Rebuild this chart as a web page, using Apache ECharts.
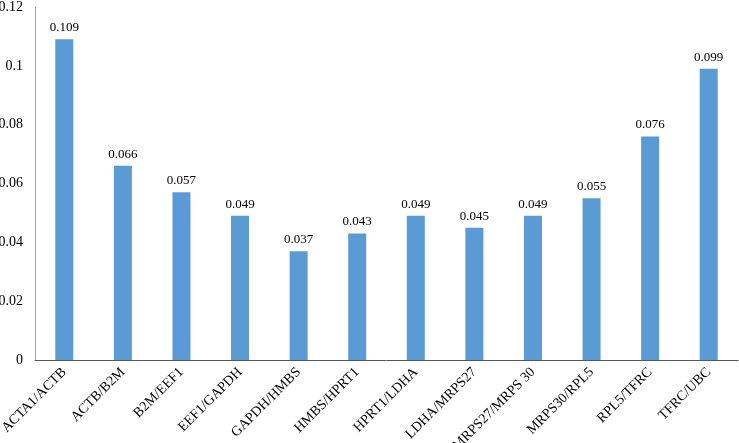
<!DOCTYPE html>
<html><head><meta charset="utf-8">
<script src="https://cdn.jsdelivr.net/npm/echarts@6/dist/echarts.min.js"></script>
<style>html,body{margin:0;padding:0;background:#fff}#c{width:739px;height:443px}</style>
</head><body><div id="c"></div>
<script>
const categories = ["ACTA1/ACTB","ACTB/B2M","B2M/EEF1","EEF1/GAPDH","GAPDH/HMBS","HMBS/HPRT1","HPRT1/LDHA","LDHA/MRPS27","MRPS27/MRPS 30","MRPS30/RPL5","RPL5/TFRC","TFRC/UBC"];
const values = [0.109,0.066,0.057,0.049,0.037,0.043,0.049,0.045,0.049,0.055,0.076,0.099];
const font = 'Liberation Serif';
const chart = echarts.init(document.getElementById('c'), null, {renderer:'canvas'});
chart.setOption({
  animation:false,
  grid:{left:35,right:1,top:7,bottom:83,containLabel:false,outerBoundsMode:'none'},
  xAxis:{type:'category',data:categories,
    axisLine:{lineStyle:{color:'#595959',width:1}},
    axisTick:{show:false},
    axisLabel:{rotate:45,interval:0,color:'#000',fontFamily:font,fontSize:14,margin:10}},
  yAxis:{type:'value',min:0,max:0.12,interval:0.02,
    axisLine:{show:true,lineStyle:{color:'#a6a6a6'}},
    axisTick:{show:false},
    splitLine:{show:false},
    axisLabel:{color:'#000',fontFamily:font,fontSize:14,margin:12}},
  series:[{type:'bar',data:values,barWidth:18,
    itemStyle:{color:'#5B9BD5'},
    label:{show:true,position:'top',color:'#000',fontFamily:font,fontSize:13,distance:5}}]
});
</script></body></html>
